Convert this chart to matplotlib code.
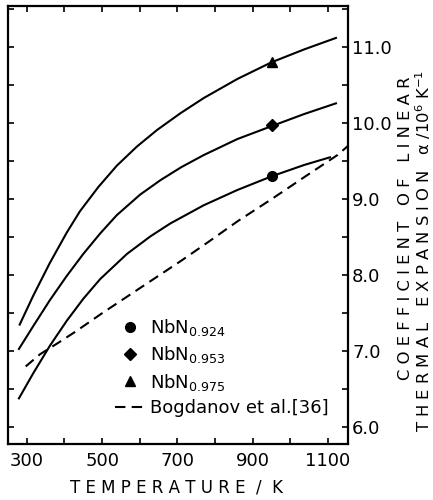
import matplotlib
matplotlib.use("Agg")
import matplotlib.pyplot as plt
from matplotlib.lines import Line2D
from matplotlib.ticker import MultipleLocator

plt.rcParams['font.family'] = ['Liberation Sans Narrow', 'DejaVu Sans']
plt.rcParams['mathtext.default'] = 'regular'

# curves (T in K, alpha in 1e-6 / K)
t_924 = [279, 317, 361, 406, 450, 495, 566, 628, 681, 770, 859, 950, 1037, 1105]
a_924 = [6.38, 6.71, 7.07, 7.40, 7.69, 7.95, 8.28, 8.51, 8.68, 8.92, 9.12, 9.30, 9.45, 9.55]

t_953 = [279, 317, 361, 406, 450, 495, 539, 601, 655, 710, 770, 859, 950, 1037, 1121]
a_953 = [7.03, 7.33, 7.67, 7.99, 8.28, 8.55, 8.79, 9.06, 9.25, 9.42, 9.58, 9.79, 9.96, 10.12, 10.26]

t_975 = [281, 317, 361, 406, 441, 490, 539, 592, 646, 708, 770, 859, 950, 1037, 1121]
a_975 = [7.35, 7.73, 8.16, 8.56, 8.84, 9.16, 9.44, 9.69, 9.91, 10.13, 10.33, 10.58, 10.80, 10.97, 11.12]

t_bog = [297, 335, 380, 430, 500, 570, 640, 710, 780, 860, 950, 1040, 1125, 1153]
a_bog = [6.80, 6.96, 7.10, 7.26, 7.50, 7.73, 7.96, 8.19, 8.43, 8.71, 9.00, 9.30, 9.58, 9.70]

# the measured points marked on each curve
mark_t = 950
mark_924 = 9.30
mark_953 = 9.97
mark_975 = 10.80

fig = plt.figure(figsize=(4.33, 5.0), dpi=100)
ax = fig.add_axes([8/433, 1 - 444/500, 340/433, 438/500])

lw = 1.5
ax.plot(t_924, a_924, color='black', lw=lw)
ax.plot(t_953, a_953, color='black', lw=lw)
ax.plot(t_975, a_975, color='black', lw=lw)
ax.plot(t_bog, a_bog, color='black', lw=lw, linestyle=(0, (5, 3)))

ax.plot(mark_t, mark_924, 'o', color='black', ms=7)
ax.plot(mark_t, mark_953, 'D', color='black', ms=6.5)
ax.plot(mark_t, mark_975, '^', color='black', ms=7)

ax.set_xlim(250, 1153)
ax.set_ylim(5.78, 11.54)

ax.xaxis.set_minor_locator(MultipleLocator(100))
ax.yaxis.set_major_locator(MultipleLocator(1.0))
ax.yaxis.set_minor_locator(MultipleLocator(0.5))
ax.set_xticks([300, 500, 700, 900, 1100])
ax.yaxis.set_major_formatter(matplotlib.ticker.FormatStrFormatter('%.1f'))

ax.tick_params(axis='both', which='both', direction='in', length=4, width=1.2,
               top=True, right=True, left=True, bottom=True, labelsize=13)
ax.tick_params(axis='y', labelleft=False, labelright=True, pad=3)
ax.tick_params(axis='x', pad=6)
for s in ax.spines.values():
    s.set_linewidth(1.6)

handles = [
    Line2D([], [], marker='o', color='black', linestyle='none', ms=7),
    Line2D([], [], marker='D', color='black', linestyle='none', ms=6.5),
    Line2D([], [], marker='^', color='black', linestyle='none', ms=7),
    Line2D([], [], color='black', lw=lw, linestyle=(0, (5, 3))),
]
labels = ['NbN$_{0.924}$', 'NbN$_{0.953}$', 'NbN$_{0.975}$', 'Bogdanov et al.[36]']
ax.legend(handles, labels, loc='upper left', bbox_to_anchor=(0.315, 0.29),
          frameon=False, fontsize=13, handlelength=1.6, handletextpad=0.35,
          labelspacing=0.35, borderpad=0, borderaxespad=0)

fig.text(177/433, 1 - 488/500, 'T E M P E R A T U R E  /  K', ha='center', va='center',
         fontsize=12, family='DejaVu Sans')
fig.text(406/433, 1 - 228/500, 'C O E F F I C I E N T   O F   L I N E A R',
         rotation=90, ha='center', va='center', fontsize=11.8, family='DejaVu Sans')
fig.text(423/433, 1 - 251/500,
         r'T H E R M A L   E X P A N S I O N   $\alpha$ /10$^6$ K$^{-1}$',
         rotation=90, ha='center', va='center', fontsize=11.8, family='DejaVu Sans')

fig.savefig('out.png', dpi=100)
